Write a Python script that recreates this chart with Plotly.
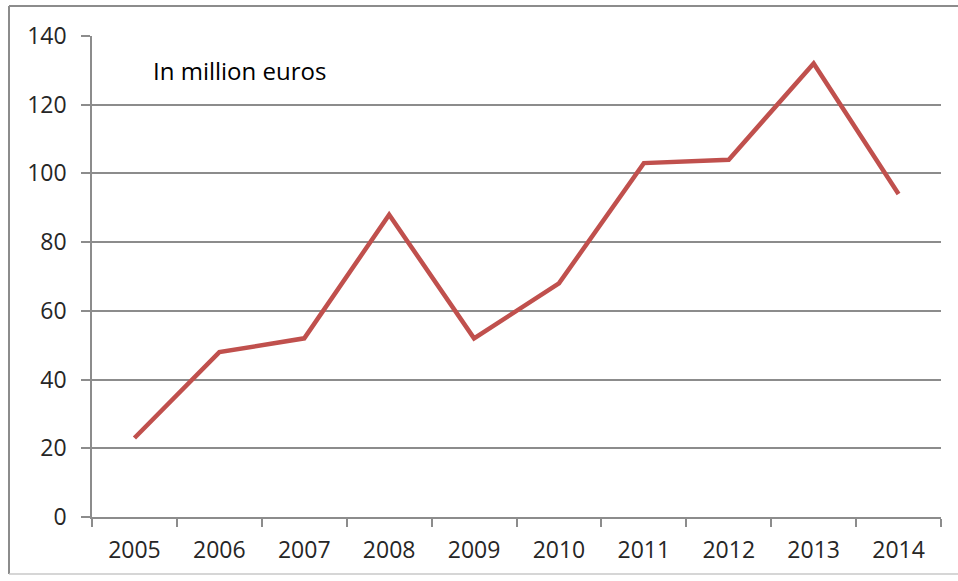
import plotly.graph_objects as go

years = ["2005", "2006", "2007", "2008", "2009", "2010", "2011", "2012", "2013", "2014"]
values = [23, 48, 52, 88, 52, 68, 103, 104, 132, 94]
y_ticks = [0, 20, 40, 60, 80, 100, 120, 140]

line_color = "#C0504D"
grid_color = "#8C8C8C"
font_family = "Open Sans, Liberation Sans, sans-serif"

fig = go.Figure()
fig.add_trace(go.Scatter(
    x=years, y=values, mode="lines",
    line=dict(color=line_color, width=4.5),
    hoverinfo="x+y",
))

W, H = 958, 581
ml, mr, mt, mb = 92, 17, 36, 64
pw, ph = W - ml - mr, H - mt - mb

def px_x(p):
    return (p - ml) / pw

def px_y(p):
    return (H - mb - p) / ph

# chart frame: left, top and bottom edges (the right edge lies past the page)
frame_style = dict(color="#8C8C8C", width=2)
frame = [
    dict(type="line", xref="paper", yref="paper",
         x0=px_x(9), x1=px_x(9), y0=px_y(574), y1=px_y(6), line=frame_style),
    dict(type="line", xref="paper", yref="paper",
         x0=px_x(9), x1=px_x(W + 2), y0=px_y(6), y1=px_y(6), line=frame_style),
    dict(type="line", xref="paper", yref="paper",
         x0=px_x(9), x1=px_x(W + 2), y0=px_y(574), y1=px_y(574),
         line=dict(color="#C8C8C8", width=1.5)),
]

fig.update_layout(
    width=W, height=H,
    margin=dict(l=ml, r=mr, t=mt, b=mb, pad=0),
    paper_bgcolor="white", plot_bgcolor="white",
    showlegend=False,
    font=dict(family=font_family, size=23, color="#262626"),
    xaxis=dict(
        type="category", tickson="boundaries", range=[-0.5, len(years) - 0.5],
        ticks="outside", ticklen=8, tickcolor=grid_color, tickwidth=1.5,
        showline=True, linecolor=grid_color, linewidth=1.5,
        showgrid=False, zeroline=False, automargin=False,
        ticklabelstandoff=12,
        tickfont=dict(size=23),
    ),
    yaxis=dict(
        range=[0, 140], tickvals=y_ticks,
        ticks="outside", ticklen=9, tickcolor=grid_color, tickwidth=1.5,
        showline=True, linecolor=grid_color, linewidth=1.5,
        showgrid=True, gridcolor=grid_color, gridwidth=1.5,
        zeroline=False, ticklabelstandoff=10, automargin=False,
        tickfont=dict(size=23),
    ),
    annotations=[dict(
        text="In million euros", xref="paper", yref="paper",
        x=px_x(151), y=px_y(70), xanchor="left", yanchor="middle",
        showarrow=False, font=dict(size=24, color="#000000"),
    )],
    shapes=frame,
)

fig.write_html(
    "out.html",
    config={"displayModeBar": False},
    post_script="document.body.style.margin='0';document.body.style.overflow='hidden';",
)
